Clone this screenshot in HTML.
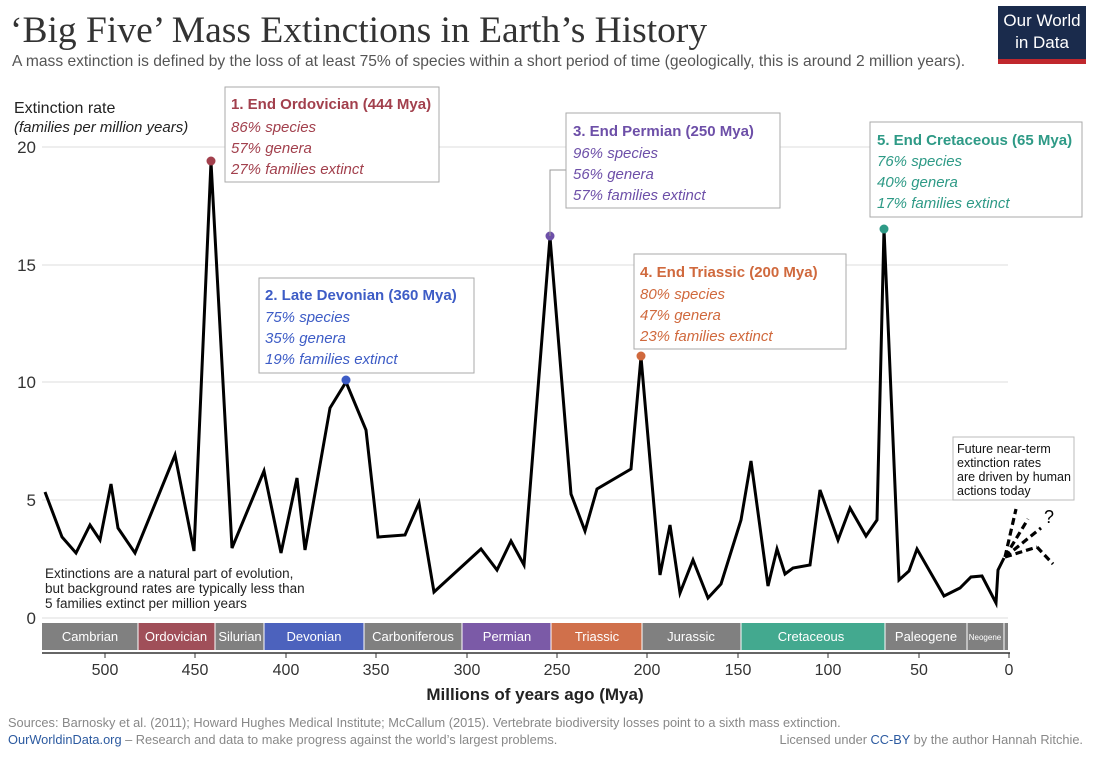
<!DOCTYPE html>
<html><head><meta charset="utf-8"><style>
body{margin:0;width:1098px;height:759px;background:#fff;font-family:"Liberation Sans",sans-serif;overflow:hidden}
</style></head><body>
<svg width="1098" height="759" xmlns="http://www.w3.org/2000/svg" font-family="Liberation Sans, sans-serif">
<text x="10" y="42" font-family="Liberation Serif, serif" font-size="37.5" fill="#333">‘Big Five’ Mass Extinctions in Earth’s History</text>
<text x="12" y="66" font-size="15.6" fill="#555">A mass extinction is defined by the loss of at least 75% of species within a short period of time (geologically, this is around 2 million years).</text>
<rect x="998" y="6" width="88" height="58" fill="#1a2b4c"/><rect x="998" y="59" width="88" height="5" fill="#c0272d"/>
<text x="1042" y="26" font-size="17" fill="#fff" text-anchor="middle">Our World</text>
<text x="1042" y="48" font-size="17" fill="#fff" text-anchor="middle">in Data</text>
<text x="14" y="113" font-size="16" fill="#222">Extinction rate</text>
<text x="14" y="132" font-size="15" font-style="italic" fill="#222">(families per million years)</text>
<g stroke="#ddd" stroke-width="1">
<line x1="42" y1="147" x2="1008" y2="147"/><line x1="42" y1="265" x2="1008" y2="265"/><line x1="42" y1="382" x2="1008" y2="382"/><line x1="42" y1="500" x2="1008" y2="500"/><line x1="42" y1="618" x2="1008" y2="618"/></g>
<g font-size="17" fill="#333" text-anchor="end"><text x="36" y="153">20</text><text x="36" y="271">15</text><text x="36" y="388">10</text><text x="36" y="506">5</text><text x="36" y="624">0</text></g>
<g font-size="13" fill="#fff" text-anchor="middle">
<rect x="42" y="623" width="96" height="27" fill="#808080"/><text x="90" y="641">Cambrian</text>
<rect x="138" y="623" width="77" height="27" fill="#a04f59"/><text x="176" y="641">Ordovician</text>
<rect x="215" y="623" width="49" height="27" fill="#808080"/><text x="240" y="641">Silurian</text>
<rect x="264" y="623" width="100" height="27" fill="#4c62bd"/><text x="314" y="641">Devonian</text>
<rect x="364" y="623" width="98" height="27" fill="#808080"/><text x="413" y="641">Carboniferous</text>
<rect x="462" y="623" width="89" height="27" fill="#7b5aa7"/><text x="507" y="641">Permian</text>
<rect x="551" y="623" width="91" height="27" fill="#d0704b"/><text x="597" y="641">Triassic</text>
<rect x="642" y="623" width="99" height="27" fill="#808080"/><text x="691" y="641">Jurassic</text>
<rect x="741" y="623" width="144" height="27" fill="#43a98f"/><text x="811" y="641">Cretaceous</text>
<rect x="885" y="623" width="82" height="27" fill="#808080"/><text x="926" y="641">Paleogene</text>
<rect x="967" y="623" width="37" height="27" fill="#808080"/><text x="985" y="640" font-size="8">Neogene</text>
<rect x="1004" y="623" width="4" height="27" fill="#808080"/>
</g>
<g stroke="#fff" stroke-width="1"><line x1="138" y1="623" x2="138" y2="650"/><line x1="215" y1="623" x2="215" y2="650"/><line x1="264" y1="623" x2="264" y2="650"/><line x1="364" y1="623" x2="364" y2="650"/><line x1="462" y1="623" x2="462" y2="650"/><line x1="551" y1="623" x2="551" y2="650"/><line x1="642" y1="623" x2="642" y2="650"/><line x1="741" y1="623" x2="741" y2="650"/><line x1="885" y1="623" x2="885" y2="650"/><line x1="967" y1="623" x2="967" y2="650"/><line x1="1004" y1="623" x2="1004" y2="650"/></g>
<line x1="42" y1="653" x2="1010" y2="653" stroke="#333" stroke-width="1.5"/>
<g stroke="#333"><line x1="105" y1="653" x2="105" y2="658"/><line x1="195" y1="653" x2="195" y2="658"/><line x1="286" y1="653" x2="286" y2="658"/><line x1="376" y1="653" x2="376" y2="658"/><line x1="467" y1="653" x2="467" y2="658"/><line x1="557" y1="653" x2="557" y2="658"/><line x1="647" y1="653" x2="647" y2="658"/><line x1="738" y1="653" x2="738" y2="658"/><line x1="828" y1="653" x2="828" y2="658"/><line x1="919" y1="653" x2="919" y2="658"/><line x1="1009" y1="653" x2="1009" y2="658"/></g>
<g font-size="16" fill="#333" text-anchor="middle"><text x="105" y="675">500</text><text x="195" y="675">450</text><text x="286" y="675">400</text><text x="376" y="675">350</text><text x="467" y="675">300</text><text x="557" y="675">250</text><text x="647" y="675">200</text><text x="738" y="675">150</text><text x="828" y="675">100</text><text x="919" y="675">50</text><text x="1009" y="675">0</text></g>
<text x="535" y="700" font-size="17" font-weight="bold" fill="#222" text-anchor="middle">Millions of years ago (Mya)</text>
<polyline fill="none" stroke="#000" stroke-width="3" stroke-linejoin="miter" points="45,492 62,537 76,553 90,525 100,540 111,484 118,528 135,553 175,455 194,551 211,162 232,548 264,471 281,553 297,478 305,550 330,408 346,382 366,430 378,537 405,535 419,503 434,592 481,549 497,570 511,541 524,565 550,237 571,494 585,531 597,489 631,469 641,357 660,575 670,525 680,593 693,560 708,598 721,584 741,520 751,461 768,586 777,549 785,574 793,568 810,565 820,490 838,540 850,508 866,536 877,520 884,229 899,580 909,571 917,549 944,596 960,588 971,577 982,576 996,603 998,570 1004,558"/>
<g stroke="#000" stroke-width="3.2" stroke-dasharray="7,4" fill="none">
<line x1="1005" y1="557" x2="1016" y2="509"/><line x1="1005" y1="557" x2="1028" y2="519"/><line x1="1005" y1="557" x2="1041" y2="528"/><line x1="1005" y1="557" x2="1037" y2="547"/><polyline points="1037,547 1053,564"/></g>
<text x="1044" y="523" font-size="18" fill="#000">?</text>
<rect x="953" y="437" width="121" height="63" fill="#fff" stroke="#bbb"/>
<g font-size="12.5" fill="#111"><text x="957" y="453">Future near-term</text><text x="957" y="467">extinction rates</text><text x="957" y="481">are driven by human</text><text x="957" y="495">actions today</text></g>
<g font-size="13.5" fill="#222"><text x="45" y="578">Extinctions are a natural part of evolution,</text><text x="45" y="593">but background rates are typically less than</text><text x="45" y="608">5 families extinct per million years</text></g>
<circle cx="211" cy="161" r="4.5" fill="#a2404d"/><circle cx="346" cy="380" r="4.5" fill="#3d5cc6"/><circle cx="550" cy="236" r="4.5" fill="#6d4fa8"/><circle cx="641" cy="356" r="4.5" fill="#d0693d"/><circle cx="884" cy="229" r="4.5" fill="#2e9a86"/>
<g stroke="#999" fill="none"><polyline points="550,236 550,170 566,170"/></g>
<rect x="225" y="87" width="214" height="95" fill="#fff" stroke="#aaa"/>
<g fill="#a2404d" font-size="15"><text x="231" y="109" font-weight="bold">1. End Ordovician (444 Mya)</text><text x="231" y="132" font-style="italic">86% species</text><text x="231" y="153" font-style="italic">57% genera</text><text x="231" y="174" font-style="italic">27% families extinct</text></g>
<rect x="259" y="278" width="215" height="95" fill="#fff" stroke="#aaa"/>
<g fill="#3d5cc6" font-size="15"><text x="265" y="300" font-weight="bold">2. Late Devonian (360 Mya)</text><text x="265" y="322" font-style="italic">75% species</text><text x="265" y="343" font-style="italic">35% genera</text><text x="265" y="364" font-style="italic">19% families extinct</text></g>
<rect x="566" y="113" width="214" height="95" fill="#fff" stroke="#aaa"/>
<g fill="#6d4fa8" font-size="15"><text x="573" y="136" font-weight="bold">3. End Permian (250 Mya)</text><text x="573" y="158" font-style="italic">96% species</text><text x="573" y="179" font-style="italic">56% genera</text><text x="573" y="200" font-style="italic">57% families extinct</text></g>
<rect x="634" y="254" width="212" height="95" fill="#fff" stroke="#aaa"/>
<g fill="#d0693d" font-size="15"><text x="640" y="277" font-weight="bold">4. End Triassic (200 Mya)</text><text x="640" y="299" font-style="italic">80% species</text><text x="640" y="320" font-style="italic">47% genera</text><text x="640" y="341" font-style="italic">23% families extinct</text></g>
<rect x="870" y="122" width="212" height="95" fill="#fff" stroke="#aaa"/>
<g fill="#2e9a86" font-size="15"><text x="877" y="145" font-weight="bold">5. End Cretaceous (65 Mya)</text><text x="877" y="166" font-style="italic">76% species</text><text x="877" y="187" font-style="italic">40% genera</text><text x="877" y="208" font-style="italic">17% families extinct</text></g>
<text x="8" y="727" font-size="12.8" fill="#888">Sources: Barnosky et al. (2011); Howard Hughes Medical Institute; McCallum (2015). Vertebrate biodiversity losses point to a sixth mass extinction.</text>
<text x="8" y="744" font-size="12.8" fill="#888"><tspan fill="#2c5aa0">OurWorldinData.org</tspan> – Research and data to make progress against the world’s largest problems.</text>
<text x="1083" y="744" font-size="12.8" fill="#888" text-anchor="end">Licensed under <tspan fill="#2c5aa0">CC-BY</tspan> by the author Hannah Ritchie.</text>
</svg>
</body></html>
